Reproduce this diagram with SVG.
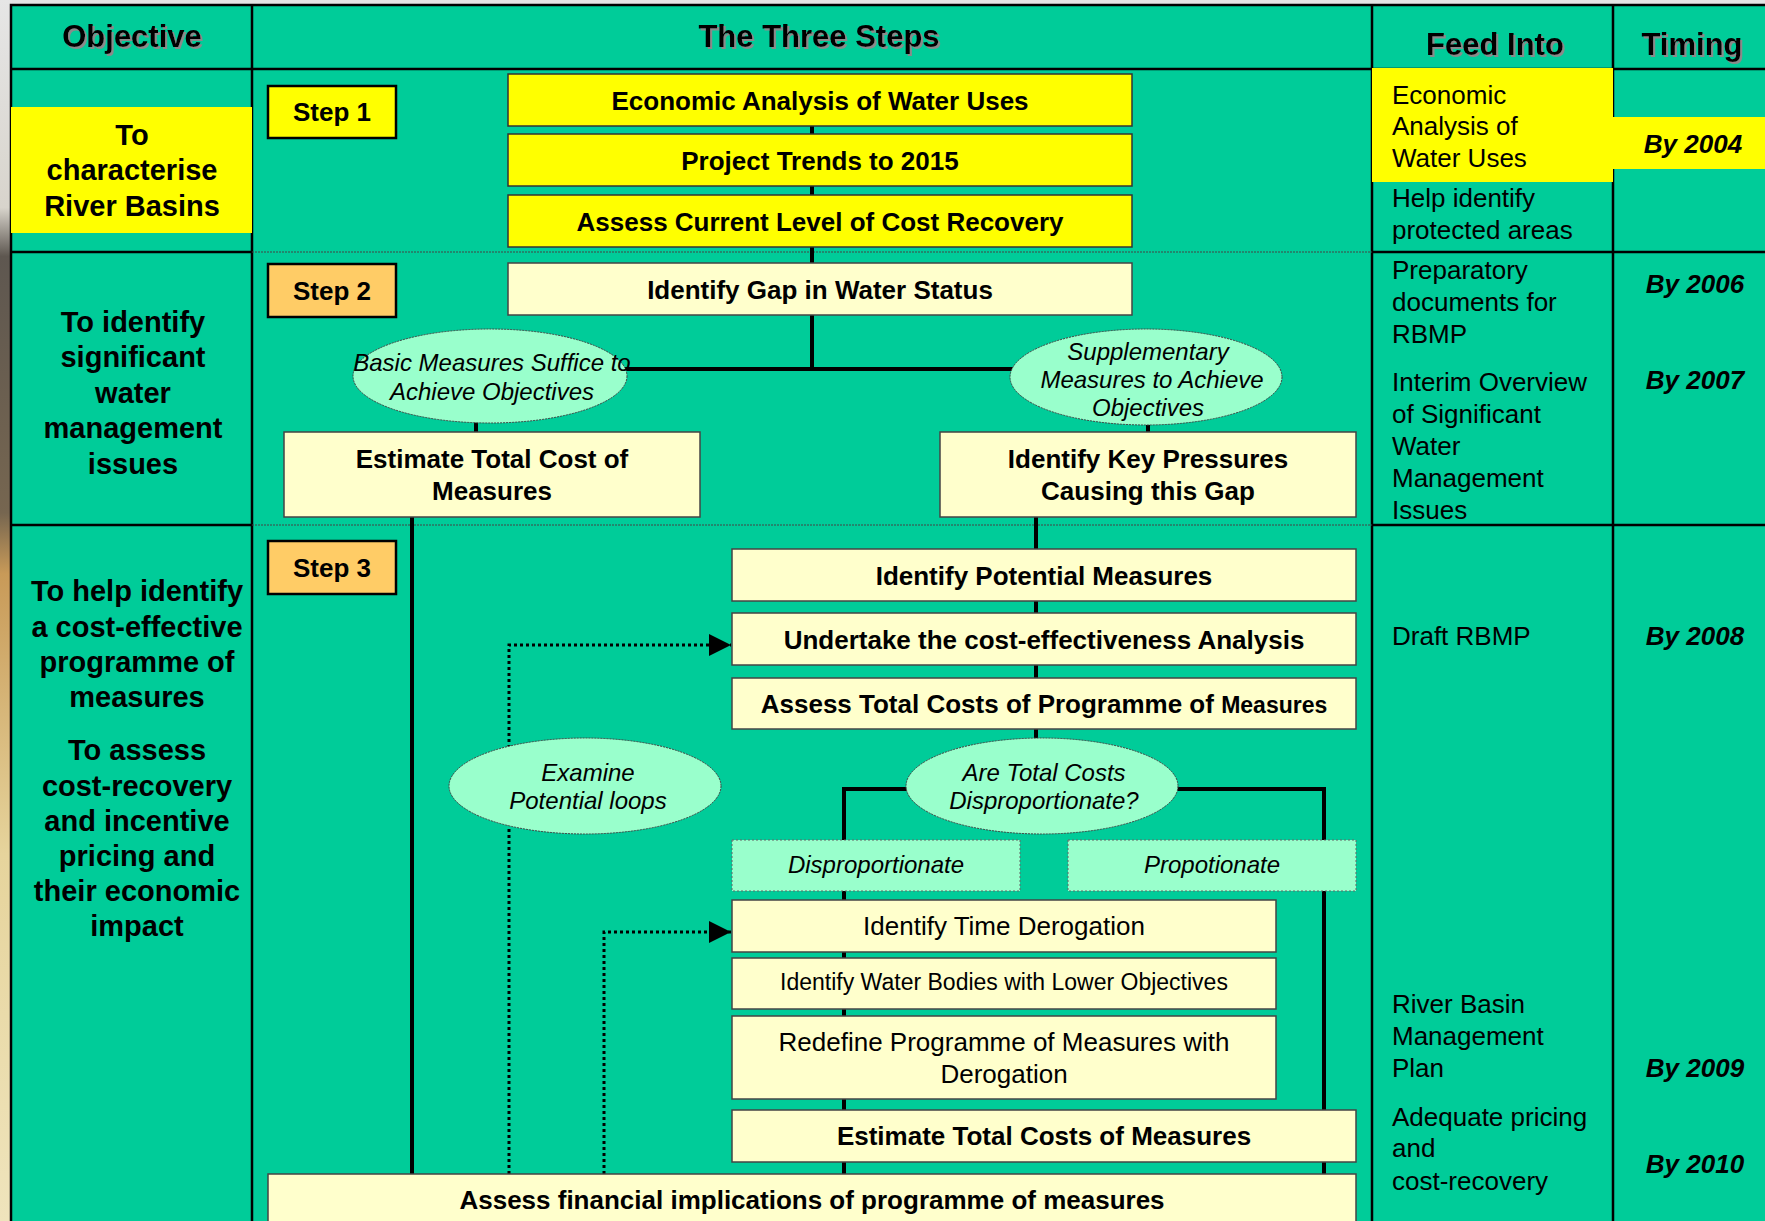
<svg xmlns="http://www.w3.org/2000/svg" width="1765" height="1221" viewBox="0 0 1765 1221">
<defs>
  <linearGradient id="bgL" x1="0" y1="0" x2="0" y2="1">
    <stop offset="0" stop-color="#e6e6e6"/>
    <stop offset="0.17" stop-color="#d8d4cc"/>
    <stop offset="0.21" stop-color="#5e5750"/>
    <stop offset="0.42" stop-color="#766650"/>
    <stop offset="0.47" stop-color="#c89a58"/>
    <stop offset="0.7" stop-color="#e6d49c"/>
    <stop offset="1" stop-color="#efe4bc"/>
  </linearGradient>
  <marker id="arr" viewBox="0 0 20 20" refX="20" refY="10" markerWidth="22" markerHeight="22" markerUnits="userSpaceOnUse" orient="auto">
    <path d="M0,0 L20,10 L0,20 z" fill="#000"/>
  </marker>
  <filter id="sh" x="-10%" y="-20%" width="120%" height="150%">
    <feDropShadow dx="2" dy="2" stdDeviation="0.6" flood-color="#8a8a8a" flood-opacity="1"/>
  </filter>
</defs>
<style>
  text{font-family:"Liberation Sans",Arial,sans-serif;fill:#000}
  .hd{font-size:31px;font-weight:bold;text-anchor:middle}
  .ob{font-size:29px;font-weight:bold;text-anchor:middle}
  .bx{font-size:26px;font-weight:bold;text-anchor:middle}
  .nx{font-size:26px;text-anchor:middle}
  .it{font-size:24px;font-style:italic;text-anchor:middle}
  .fd{font-size:26px}
  .tm{font-size:26px;font-weight:bold;font-style:italic;text-anchor:middle}
  .yel{fill:#ffff00;stroke:#333;stroke-width:1.5}
  .lyl{fill:#ffffcc;stroke:#444;stroke-width:1.5}
  .stp{stroke:#000;stroke-width:2.5}
  .ell{fill:#99ffcc;stroke:#444;stroke-width:1;stroke-dasharray:2 1}
  .mnt{fill:#99ffcc;stroke:#666;stroke-width:1;stroke-dasharray:2 2}
  .grid{stroke:#000;stroke-width:2.5;fill:none}
  .dotrow{stroke:#444;stroke-width:1;stroke-dasharray:2 1;fill:none}
  .con{stroke:#000;stroke-width:4;fill:none}
  .dot{stroke:#000;stroke-width:3;stroke-dasharray:3 3;fill:none}
</style>

<!-- background -->
<rect x="0" y="0" width="1765" height="1221" fill="#e4e4e4"/>
<rect x="0" y="0" width="12" height="1221" fill="url(#bgL)"/>
<rect x="11" y="5" width="1760" height="1220" fill="#00cc99"/>

<!-- table grid -->
<g id="grid">
  <rect x="11" y="5" width="1760" height="1220" class="grid" stroke-width="3"/>
  <line x1="11" y1="69" x2="1765" y2="69" class="grid" stroke-width="3"/>
  <line x1="252" y1="5" x2="252" y2="1221" class="grid"/>
  <line x1="1372" y1="5" x2="1372" y2="1221" class="grid"/>
  <line x1="1613" y1="5" x2="1613" y2="1221" class="grid"/>
  <line x1="11" y1="252" x2="252" y2="252" class="grid" stroke-width="3"/>
  <line x1="252" y1="252" x2="1372" y2="252" class="dotrow"/>
  <line x1="1372" y1="252" x2="1765" y2="252" class="grid" stroke-width="3"/>
  <line x1="11" y1="525" x2="252" y2="525" class="grid" stroke-width="3"/>
  <line x1="252" y1="525" x2="1372" y2="525" class="dotrow"/>
  <line x1="1372" y1="525" x2="1765" y2="525" class="grid" stroke-width="3"/>
</g>

<!-- headers -->
<g id="headers" filter="url(#sh)">
  <text class="hd" x="132" y="47">Objective</text>
  <text class="hd" x="819" y="47">The Three Steps</text>
  <text class="hd" x="1495" y="55">Feed Into</text>
  <text class="hd" x="1692" y="55">Timing</text>
</g>

<!-- objectives -->
<g id="obj1">
  <rect x="11" y="107" width="241" height="126" fill="#ffff00"/>
  <text class="ob" x="132" y="145">To</text>
  <text class="ob" x="132" y="180">characterise</text>
  <text class="ob" x="132" y="216">River Basins</text>
</g>
<g id="obj2">
  <text class="ob" x="133" y="332">To identify</text>
  <text class="ob" x="133" y="367">significant</text>
  <text class="ob" x="133" y="403">water</text>
  <text class="ob" x="133" y="438">management</text>
  <text class="ob" x="133" y="474">issues</text>
</g>
<g id="obj3">
  <text class="ob" x="137" y="601">To help identify</text>
  <text class="ob" x="137" y="637">a cost-effective</text>
  <text class="ob" x="137" y="672">programme of</text>
  <text class="ob" x="137" y="707">measures</text>
  <text class="ob" x="137" y="760">To assess</text>
  <text class="ob" x="137" y="796">cost-recovery</text>
  <text class="ob" x="137" y="831">and incentive</text>
  <text class="ob" x="137" y="866">pricing and</text>
  <text class="ob" x="137" y="901">their economic</text>
  <text class="ob" x="137" y="936">impact</text>
</g>

<!-- feed into -->
<g id="feed">
  <rect x="1372" y="68" width="241" height="114" fill="#ffff00"/>
  <text class="fd" x="1392" y="104">Economic</text>
  <text class="fd" x="1392" y="135">Analysis of</text>
  <text class="fd" x="1392" y="167">Water Uses</text>
  <text class="fd" x="1392" y="207">Help identify</text>
  <text class="fd" x="1392" y="239">protected areas</text>
  <text class="fd" x="1392" y="279">Preparatory</text>
  <text class="fd" x="1392" y="311">documents for</text>
  <text class="fd" x="1392" y="343">RBMP</text>
  <text class="fd" x="1392" y="391">Interim Overview</text>
  <text class="fd" x="1392" y="423">of Significant</text>
  <text class="fd" x="1392" y="455">Water</text>
  <text class="fd" x="1392" y="487">Management</text>
  <text class="fd" x="1392" y="519">Issues</text>
  <text class="fd" x="1392" y="645">Draft RBMP</text>
  <text class="fd" x="1392" y="1013">River Basin</text>
  <text class="fd" x="1392" y="1045">Management</text>
  <text class="fd" x="1392" y="1077">Plan</text>
  <text class="fd" x="1392" y="1126">Adequate pricing</text>
  <text class="fd" x="1392" y="1157">and</text>
  <text class="fd" x="1392" y="1190">cost-recovery</text>
</g>

<!-- timing -->
<g id="timing">
  <rect x="1613" y="117" width="152" height="52" fill="#ffff00"/>
  <text class="tm" x="1693" y="153">By 2004</text>
  <text class="tm" x="1695" y="293">By 2006</text>
  <text class="tm" x="1695" y="389">By 2007</text>
  <text class="tm" x="1695" y="645">By 2008</text>
  <text class="tm" x="1695" y="1077">By 2009</text>
  <text class="tm" x="1695" y="1173">By 2010</text>
</g>

<!-- connectors -->
<g id="connectors">
  <line class="con" x1="812" y1="126" x2="812" y2="134"/>
  <line class="con" x1="812" y1="186" x2="812" y2="195"/>
  <line class="con" x1="812" y1="247" x2="812" y2="263"/>
  <line class="con" x1="812" y1="315" x2="812" y2="369"/>
  <line class="con" x1="600" y1="369" x2="1040" y2="369"/>
  <line class="con" x1="476" y1="418" x2="476" y2="432"/>
  <line class="con" x1="1148" y1="420" x2="1148" y2="432"/>
  <line class="con" x1="412" y1="517" x2="412" y2="1174"/>
  <line class="con" x1="1036" y1="517" x2="1036" y2="549"/>
  <line class="con" x1="1036" y1="601" x2="1036" y2="613"/>
  <line class="con" x1="1036" y1="665" x2="1036" y2="678"/>
  <line class="con" x1="1036" y1="729" x2="1036" y2="745"/>
  <polyline class="con" points="920,789 844,789 844,840"/>
  <polyline class="con" points="1165,789 1324,789 1324,1110"/>
  <line class="con" x1="1324" y1="1162" x2="1324" y2="1174"/>
  <line class="con" x1="844" y1="891" x2="844" y2="900"/>
  <line class="con" x1="844" y1="952" x2="844" y2="958"/>
  <line class="con" x1="844" y1="1009" x2="844" y2="1016"/>
  <line class="con" x1="844" y1="1099" x2="844" y2="1110"/>
  <line class="con" x1="844" y1="1162" x2="844" y2="1174"/>
  <polyline class="dot" points="509,1174 509,645 731,645" marker-end="url(#arr)"/>
  <polyline class="dot" points="604,1174 604,932 731,932" marker-end="url(#arr)"/>
</g>

<!-- step labels -->
<g id="step1"><rect x="268" y="86" width="128" height="52" fill="#ffff00" class="stp"/><text class="bx" x="332" y="121">Step 1</text></g>
<g id="step2"><rect x="268" y="264" width="128" height="53" fill="#ffcc66" class="stp"/><text class="bx" x="332" y="300">Step 2</text></g>
<g id="step3"><rect x="268" y="541" width="128" height="53" fill="#ffcc66" class="stp"/><text class="bx" x="332" y="577">Step 3</text></g>

<!-- step 1 nodes -->
<g id="econ"><rect x="508" y="74" width="624" height="52" class="yel"/><text class="bx" x="820" y="110">Economic Analysis of Water Uses</text></g>
<g id="trends"><rect x="508" y="134" width="624" height="52" class="yel"/><text class="bx" x="820" y="170">Project Trends to 2015</text></g>
<g id="costrec"><rect x="508" y="195" width="624" height="52" class="yel"/><text class="bx" x="820" y="231">Assess Current Level of Cost Recovery</text></g>

<!-- step 2 nodes -->
<g id="gap"><rect x="508" y="263" width="624" height="52" class="lyl"/><text class="bx" x="820" y="299">Identify Gap in Water Status</text></g>
<g id="basic"><ellipse cx="490" cy="376" rx="137" ry="47" class="ell"/>
  <text class="it" x="492" y="371">Basic Measures Suffice to</text>
  <text class="it" x="492" y="400">Achieve Objectives</text></g>
<g id="supp"><ellipse cx="1146" cy="377" rx="136" ry="48" class="ell"/>
  <text class="it" x="1148" y="360">Supplementary</text>
  <text class="it" x="1152" y="388">Measures to Achieve</text>
  <text class="it" x="1148" y="416">Objectives</text></g>
<g id="estcost"><rect x="284" y="432" width="416" height="85" class="lyl"/>
  <text class="bx" x="492" y="468">Estimate Total Cost of</text>
  <text class="bx" x="492" y="500">Measures</text></g>
<g id="pressures"><rect x="940" y="432" width="416" height="85" class="lyl"/>
  <text class="bx" x="1148" y="468">Identify Key Pressures</text>
  <text class="bx" x="1148" y="500">Causing this Gap</text></g>

<!-- step 3 nodes -->
<g id="potential"><rect x="732" y="549" width="624" height="52" class="lyl"/><text class="bx" x="1044" y="585">Identify Potential Measures</text></g>
<g id="cea"><rect x="732" y="613" width="624" height="52" class="lyl"/><text class="bx" x="1044" y="649">Undertake the cost-effectiveness Analysis</text></g>
<g id="totalpom"><rect x="732" y="678" width="624" height="51" class="lyl"/><text class="bx" x="1044" y="713">Assess Total Costs of Programme of <tspan font-size="23">Measures</tspan></text></g>
<g id="examine"><ellipse cx="585" cy="786" rx="136" ry="48" class="ell"/>
  <text class="it" x="588" y="781">Examine</text>
  <text class="it" x="588" y="809">Potential loops</text></g>
<g id="disprop-q"><ellipse cx="1042" cy="786" rx="136" ry="48" class="ell"/>
  <text class="it" x="1044" y="781">Are Total Costs</text>
  <text class="it" x="1044" y="809">Disproportionate?</text></g>
<g id="disprop"><rect x="732" y="840" width="288" height="51" class="mnt"/><text class="it" x="876" y="873">Disproportionate</text></g>
<g id="prop"><rect x="1068" y="840" width="288" height="51" class="mnt"/><text class="it" x="1212" y="873">Propotionate</text></g>
<g id="timeder"><rect x="732" y="900" width="544" height="52" class="lyl"/><text class="nx" x="1004" y="935">Identify Time Derogation</text></g>
<g id="lowerobj"><rect x="732" y="958" width="544" height="51" class="lyl"/><text class="nx" font-size="23" x="1004" y="990" style="font-size:23px">Identify Water Bodies with Lower Objectives</text></g>
<g id="redefine"><rect x="732" y="1016" width="544" height="83" class="lyl"/>
  <text class="nx" x="1004" y="1051">Redefine Programme of Measures with</text>
  <text class="nx" x="1004" y="1083">Derogation</text></g>
<g id="esttotal"><rect x="732" y="1110" width="624" height="52" class="lyl"/><text class="bx" x="1044" y="1145">Estimate Total Costs of Measures</text></g>
<g id="financial"><rect x="268" y="1174" width="1088" height="60" class="lyl"/><text class="bx" x="812" y="1209">Assess financial implications of programme of measures</text></g>
</svg>
